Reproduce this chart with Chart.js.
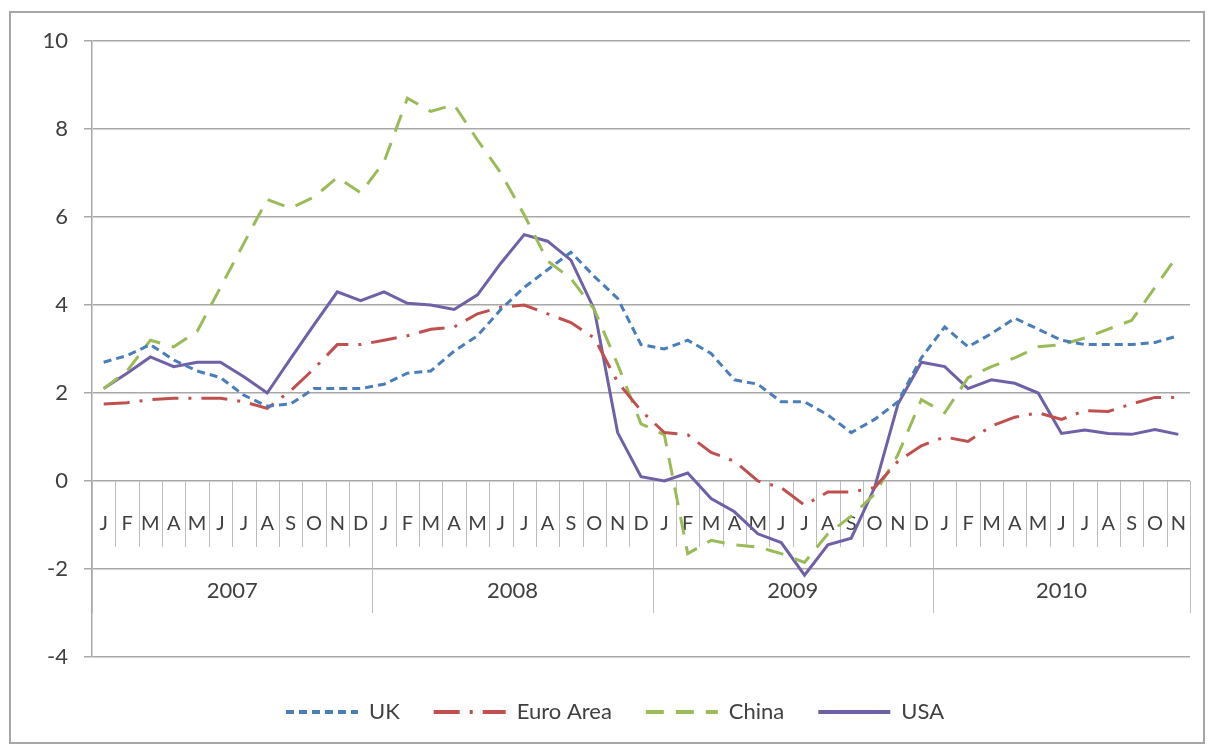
<!DOCTYPE html>
<html>
<head>
<meta charset="utf-8">
<title>Inflation 2007-2010</title>
<script src="https://cdn.jsdelivr.net/npm/chart.js@4.4.0/dist/chart.umd.min.js"></script>
<style>
  html, body { margin: 0; padding: 0; background: #fff; }
  #wrap { width: 1208px; height: 747px; }
</style>
</head>
<body>
<div id="wrap"><canvas id="chart" width="1208" height="747"></canvas></div>
<script>
const monthLetters = ['J','F','M','A','M','J','J','A','S','O','N','D'];
const years = ['2007', '2008', '2009', '2010'];
const months = [
  ...monthLetters, ...monthLetters, ...monthLetters, ...monthLetters.slice(0, 11)
];
const yTicks = { min: -4, max: 10, step: 2 };

const uk = [2.7, 2.85, 3.1, 2.75, 2.5, 2.35, 1.95, 1.7, 1.75, 2.1, 2.1, 2.1,
            2.2, 2.45, 2.5, 2.95, 3.3, 3.9, 4.4, 4.8, 5.2, 4.65, 4.15, 3.1,
            3.0, 3.2, 2.9, 2.3, 2.2, 1.8, 1.8, 1.5, 1.1, 1.4, 1.8, 2.8,
            3.5, 3.05, 3.35, 3.7, 3.45, 3.2, 3.1, 3.1, 3.1, 3.15, 3.3];
const euroArea = [1.75, 1.78, 1.85, 1.88, 1.88, 1.88, 1.8, 1.65, 2.05, 2.55, 3.1, 3.1,
                  3.2, 3.3, 3.45, 3.5, 3.8, 3.95, 4.0, 3.8, 3.6, 3.25, 2.25, 1.6,
                  1.1, 1.05, 0.65, 0.45, 0.0, -0.15, -0.55, -0.25, -0.25, -0.15, 0.45, 0.8,
                  1.0, 0.9, 1.25, 1.45, 1.55, 1.4, 1.6, 1.58, 1.75, 1.9, 1.9];
const china = [2.1, 2.5, 3.2, 3.05, 3.4, 4.4, 5.4, 6.4, 6.2, 6.45, 6.9, 6.55,
               7.25, 8.7, 8.4, 8.55, 7.75, 7.0, 6.05, 5.0, 4.6, 3.9, 2.65, 1.3,
               1.05, -1.65, -1.35, -1.45, -1.5, -1.65, -1.85, -1.2, -0.8, -0.3, 0.6, 1.85,
               1.55, 2.35, 2.6, 2.8, 3.05, 3.1, 3.25, 3.45, 3.65, 4.4, 5.15];
const usa = [2.1, 2.45, 2.82, 2.6, 2.7, 2.7, 2.37, 2.0, 2.78, 3.55, 4.3, 4.1,
             4.3, 4.04, 4.0, 3.9, 4.23, 4.95, 5.6, 5.45, 5.02, 3.9, 1.1, 0.1,
             0.0, 0.18, -0.4, -0.7, -1.2, -1.4, -2.14, -1.45, -1.3, -0.15, 1.75, 2.7,
             2.6, 2.1, 2.3, 2.22, 2.0, 1.08, 1.16, 1.08, 1.06, 1.17, 1.06];

const FONT = 'Lato, "Open Sans", sans-serif';
const TEXT = '#404040';
const GRID = '#a8a8a8';

// frame, month/year category axis drawn at the zero line
const axisDecor = {
  id: 'axisDecor',
  beforeDraw(chart) {
    const ctx = chart.ctx;
    ctx.save();
    ctx.fillStyle = '#fff';
    ctx.fillRect(0, 0, chart.width, chart.height);
    ctx.strokeStyle = '#a6a6a6';
    ctx.lineWidth = 2;
    ctx.strokeRect(10, 12, 1194, 731);
    ctx.restore();
  },
  beforeDatasetsDraw(chart) {
    const { ctx, scales: { x, y } } = chart;
    const y0 = y.getPixelForValue(0);
    const n = months.length;
    ctx.save();
    ctx.strokeStyle = '#bdbdbd';
    ctx.lineWidth = 1;
    for (let k = 0; k <= n; k++) {
      const px = Math.round(x.getPixelForValue(k - 0.5)) + 0.5;
      const len = (k % 12 === 0 || k === n) ? 132 : 66;
      ctx.beginPath();
      ctx.moveTo(px, y0);
      ctx.lineTo(px, y0 + len);
      ctx.stroke();
    }
    ctx.fillStyle = TEXT;
    ctx.font = '20px ' + FONT;
    ctx.textAlign = 'center';
    ctx.textBaseline = 'middle';
    months.forEach((m, i) => {
      ctx.fillText(m, x.getPixelForValue(i), y0 + 43);
    });
    ctx.font = '22px ' + FONT;
    years.forEach((yr, j) => {
      const first = j * 12;
      const last = Math.min(first + 11, n - 1);
      const cx = (x.getPixelForValue(first - 0.5) + x.getPixelForValue(last + 0.5)) / 2;
      ctx.fillText(yr, cx, y0 + 110);
    });
    ctx.restore();
  }
};

function series(label, data, color, dash) {
  return {
    label: label,
    data: data,
    borderColor: color,
    backgroundColor: color,
    borderWidth: 3,
    borderDash: dash,
    pointRadius: 0,
    tension: 0,
    fill: false
  };
}

new Chart(document.getElementById('chart'), {
  type: 'line',
  data: {
    labels: months,
    datasets: [
      series('UK', uk, '#4a7ebb', [8, 5]),
      series('Euro Area', euroArea, '#c0504d', [26, 10, 3, 10]),
      series('China', china, '#9bbb59', [18, 12]),
      series('USA', usa, '#7060a8', [])
    ]
  },
  options: {
    responsive: false,
    animation: false,
    layout: { padding: { left: 40, right: 18, top: 41, bottom: 14 } },
    scales: {
      x: {
        offset: true,
        grid: { display: false },
        border: { display: false },
        ticks: { display: false },
        afterFit(scale) { scale.height = 10; }
      },
      y: {
        min: yTicks.min,
        max: yTicks.max,
        ticks: {
          stepSize: yTicks.step,
          padding: 16,
          color: TEXT,
          font: { family: FONT, size: 22 }
        },
        grid: { color: GRID, lineWidth: 1.5, tickLength: 8 },
        border: { display: true, color: GRID, width: 1.5 },
        afterFit(scale) { scale.width = 52; }
      }
    },
    plugins: {
      legend: {
        position: 'bottom',
        labels: {
          usePointStyle: true,
          pointStyle: 'line',
          pointStyleWidth: 72,
          padding: 34,
          color: TEXT,
          font: { family: FONT, size: 22 },
          generateLabels(chart) {
            const items = Chart.defaults.plugins.legend.labels.generateLabels(chart);
            items.forEach(it => {
              const ds = chart.data.datasets[it.datasetIndex];
              it.lineDash = ds.borderDash;
              it.lineWidth = 4;
              it.strokeStyle = ds.borderColor;
            });
            return items;
          }
        }
      },
      tooltip: { enabled: false }
    }
  },
  plugins: [axisDecor]
});
</script>
</body>
</html>
